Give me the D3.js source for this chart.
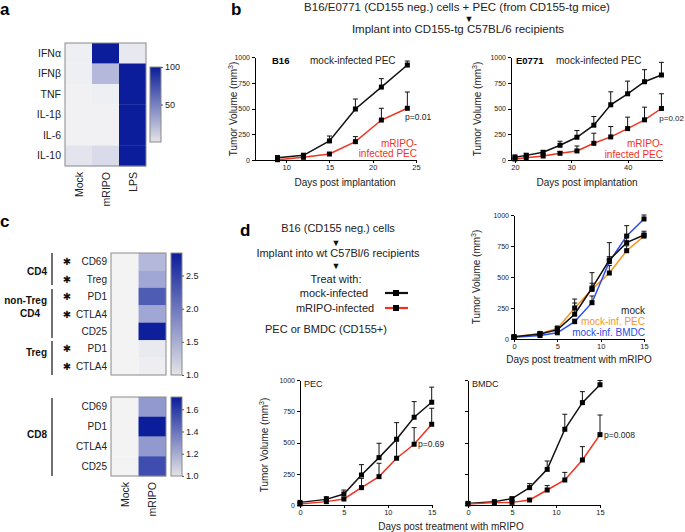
<!DOCTYPE html>
<html>
<head>
<meta charset="utf-8">
<script src="https://cdn.jsdelivr.net/npm/d3@7"></script>
<style>
  body { margin: 0; background: #fff; }
  svg { display: block; font-family: "Liberation Sans", Arial, sans-serif; }
  .axis path, .axis line { stroke: #000; shape-rendering: crispEdges; }
  .axis text { font-size: 7px; fill: #222; }
  .cbar text { font-size: 9px; fill: #222; }
  .cbar path { display: none; }
  .cbar line { stroke: #555; }
</style>
</head>
<body>
<div id="container"></div>
<script>
const WIDTH = 685;
const HEIGHT = 532;

// panel a: cytokines heatmap
const cytokines = ["IFNα", "IFNβ", "TNF", "IL-1β", "IL-6", "IL-10"];
const cytoConditions = ["Mock", "mRIPO", "LPS"];
const cytoValues = [
  [2, 100, 5],
  [2, 27, 100],
  [1, 2, 100],
  [1, 1, 100],
  [1, 1, 100],
  [7, 11, 100],
];

// panel c: T cell markers (fold change)
const tcConditions = ["Mock", "mRIPO"];
const cd4Rows = ["CD69", "Treg", "PD1", "CTLA4", "CD25", "PD1", "CTLA4"];
const cd4Star = [true, true, true, true, false, true, true];
const cd4Values = [
  [1, 1.5], [1, 1.65], [1, 2.3], [1, 1.65], [1, 2.82], [1, 1.08], [1, 1.04],
];
const cd8Rows = ["CD69", "PD1", "CTLA4", "CD25"];
const cd8Values = [[1, 1.3], [1, 1.71], [1, 1.3], [1, 1.55]];

// panel b: tumor growth after implantation
const b16Days = [9, 12, 15, 18, 21, 24];
const b16Mock = [23, 45, 185, 495, 708, 922];
const b16MockErr = [17, 20, 48, 97, 82, 39];
const b16Ripo = [3, 26, 58, 178, 388, 502];
const b16RipoErr = [7, 9, 12, 49, 114, 158];

const e0771Days = [20, 22, 25, 28, 31, 34, 37, 40, 43, 46];
const e0771Mock = [26, 45, 75, 143, 221, 338, 536, 643, 760, 825];
const e0771MockErr = [23, 20, 16, 39, 65, 84, 126, 123, 117, 123];
const e0771Ripo = [10, 23, 39, 65, 88, 162, 224, 305, 390, 500];
const e0771RipoErr = [5, 7, 11, 16, 48, 98, 101, 111, 123, 143];

// panel d: days post treatment
const treatDays = [0, 3, 5, 7, 9, 11, 13, 15];
const ctrlMock = [18, 40, 75, 200, 411, 637, 777, 839];
const ctrlMockErr = [5, 15, 25, 122, 124, 140, 60, 30];
const ctrlPec = [18, 45, 85, 250, 400, 532, 712, 830];
const ctrlPecErr = [5, 10, 20, 40, 50, 60, 40, 20];
const ctrlBmdc = [15, 28, 50, 140, 293, 624, 830, 968];
const ctrlBmdcErr = [3, 8, 15, 20, 54, 40, 84, 32];

const pecMock = [21, 45, 88, 240, 379, 526, 702, 822];
const pecMockErr = [5, 22, 32, 83, 115, 133, 125, 121];
const pecRipo = [8, 27, 48, 139, 227, 374, 486, 646];
const pecRipoErr = [3, 8, 10, 74, 107, 146, 133, 128];

const bmdcMock = [13, 27, 51, 139, 285, 606, 819, 962];
const bmdcMockErr = [3, 6, 10, 32, 67, 120, 88, 34];
const bmdcRipo = [8, 19, 21, 40, 120, 200, 360, 563];
const bmdcRipoErr = [2, 4, 5, 8, 35, 61, 107, 157];

const volTicks = [0, 250, 500, 750, 1000];

const RED = "#f0321e";
const ORANGE = "#f7951d";
const BLUE = "#2a4df0";
const NAVY = "#0b1d9a";
const PALE = "#f3f3f4";

const svg = d3.select("div#container")
  .append("svg")
  .attr("width", WIDTH)
  .attr("height", HEIGHT);

svg.append("rect").attr("width", WIDTH).attr("height", HEIGHT).attr("fill", "#fff");

const defs = svg.append("defs");

function text(x, y, str, opts = {}) {
  return svg.append("text")
    .attr("x", x)
    .attr("y", y)
    .attr("text-anchor", opts.anchor || "start")
    .style("font-size", (opts.size || 10) + "px")
    .style("font-weight", opts.bold ? "bold" : "normal")
    .style("fill", opts.fill || "#222")
    .text(str);
}

// panel letters
text(0, 15, "a", { size: 17, bold: true, fill: "#000" });
text(231, 15, "b", { size: 17, bold: true, fill: "#000" });
text(0, 227, "c", { size: 17, bold: true, fill: "#000" });
text(240, 236, "d", { size: 17, bold: true, fill: "#000" });

// ---------- heatmap helper ----------
function heatmap(cfg) {
  const x = d3.scaleBand().domain(cfg.cols).range([cfg.x0, cfg.x1]);
  const y = d3.scaleBand().domain(d3.range(cfg.rows.length)).range([cfg.y0, cfg.y1]);
  const color = d3.scaleLinear().domain(cfg.domain).range([PALE, NAVY]).clamp(true);

  const g = svg.append("g");
  cfg.values.forEach((row, i) => {
    row.forEach((v, j) => {
      g.append("rect")
        .attr("x", x(cfg.cols[j]))
        .attr("y", y(i))
        .attr("width", x.bandwidth())
        .attr("height", y.bandwidth() + 0.3)
        .attr("fill", color(v));
    });
  });
  g.append("rect")
    .attr("x", cfg.x0).attr("y", cfg.y0)
    .attr("width", cfg.x1 - cfg.x0).attr("height", cfg.y1 - cfg.y0)
    .attr("fill", "none").attr("stroke", "#8a8a8a");

  cfg.rows.forEach((r, i) => {
    text(cfg.x0 - 4, y(i) + y.bandwidth() / 2 + 3.5, r, { anchor: "end", size: cfg.fontSize || 10.5 });
  });

  if (cfg.showCols) {
    cfg.cols.forEach((c) => {
      svg.append("text")
        .attr("transform", `translate(${x(c) + x.bandwidth() / 2 + 4},${cfg.y1 + 6}) rotate(-90)`)
        .attr("text-anchor", "end")
        .style("font-size", "10.5px")
        .style("fill", "#222")
        .text(c);
    });
  }

  // colorbar
  const id = "grad" + cfg.id;
  const grad = defs.append("linearGradient").attr("id", id)
    .attr("x1", 0).attr("y1", 1).attr("x2", 0).attr("y2", 0);
  grad.append("stop").attr("offset", 0).attr("stop-color", "#e4e4e6");
  grad.append("stop").attr("offset", 1).attr("stop-color", NAVY);

  const cy = d3.scaleLinear().domain(cfg.domain).range([cfg.cb.y1, cfg.cb.y0]);
  svg.append("rect")
    .attr("x", cfg.cb.x0).attr("y", cfg.cb.y0)
    .attr("width", cfg.cb.x1 - cfg.cb.x0).attr("height", cfg.cb.y1 - cfg.cb.y0)
    .attr("fill", `url(#${id})`).attr("stroke", "#8a8a8a");
  svg.append("g")
    .attr("class", "cbar")
    .attr("transform", `translate(${cfg.cb.x1},0)`)
    .call(d3.axisRight(cy).tickValues(cfg.cbTicks).tickFormat(cfg.cbFormat).tickSize(2).tickPadding(2));
  return { x, y };
}

// ---------- panel a ----------
heatmap({
  id: "a",
  rows: cytokines, cols: cytoConditions, values: cytoValues,
  x0: 65, x1: 146, y0: 43, y1: 166,
  domain: [0, 100], showCols: true,
  cb: { x0: 150, x1: 161, y0: 67, y1: 142 },
  cbTicks: [50, 100], cbFormat: d3.format("d"),
});

// ---------- panel c ----------
const cUp = heatmap({
  id: "c1",
  rows: cd4Rows, cols: tcConditions, values: cd4Values,
  x0: 111, x1: 166, y0: 253, y1: 375,
  domain: [1, 2.84], showCols: false, fontSize: 10,
  cb: { x0: 171, x1: 182, y0: 253, y1: 375 },
  cbTicks: [1, 1.5, 2, 2.5], cbFormat: d3.format(".1f"),
});
heatmap({
  id: "c2",
  rows: cd8Rows, cols: tcConditions, values: cd8Values,
  x0: 111, x1: 166, y0: 397, y1: 476,
  domain: [1, 1.71], showCols: true, fontSize: 10,
  cb: { x0: 171, x1: 182, y0: 397, y1: 476 },
  cbTicks: [1, 1.2, 1.4, 1.6], cbFormat: d3.format(".1f"),
});

cd4Star.forEach((s, i) => {
  if (s) {
    text(67, cUp.y(i) + cUp.y.bandwidth() / 2 + 3.5, "✱", { anchor: "middle", size: 10, fill: "#111" })
      .style("font-family", "'DejaVu Sans', sans-serif");
  }
});

function bracket(yA, yB) {
  svg.append("line").attr("x1", 52).attr("x2", 52).attr("y1", yA).attr("y2", yB)
    .attr("stroke", "#111").attr("stroke-width", 1.2);
}
bracket(253, 285);
bracket(289, 338);
bracket(341, 375);
bracket(398, 476);
text(47, 275, "CD4", { anchor: "end", size: 10, bold: true, fill: "#111" });
text(47, 304, "non-Treg", { anchor: "end", size: 10, bold: true, fill: "#111" });
text(40, 317, "CD4", { anchor: "end", size: 10, bold: true, fill: "#111" });
text(47, 356, "Treg", { anchor: "end", size: 10, bold: true, fill: "#111" });
text(47, 438, "CD8", { anchor: "end", size: 10, bold: true, fill: "#111" });

// ---------- line chart helper ----------
function plot(cfg) {
  const x = d3.scaleLinear().domain(cfg.xDomain).range([cfg.x0, cfg.x1]);
  const y = d3.scaleLinear().domain([0, 1000]).range([cfg.y0, cfg.y1]);

  svg.append("g")
    .attr("class", "axis")
    .attr("transform", `translate(0,${cfg.y0})`)
    .call(d3.axisBottom(x).tickValues(cfg.xTicks).tickSize(3).tickSizeOuter(0).tickPadding(2))
    .selectAll("text").style("font-size", "7.5px");

  svg.append("g")
    .attr("class", "axis")
    .attr("transform", `translate(${cfg.x0},0)`)
    .call(d3.axisLeft(y).tickValues(volTicks).tickSize(3).tickSizeOuter(0).tickPadding(2)
      .tickFormat(cfg.noYLabels ? "" : d3.format("d")));

  const line = d3.line().x((d) => x(d[0])).y((d) => y(d[1]));

  cfg.series.forEach((s) => {
    const pts = cfg.days.map((d, i) => [d, s.values[i], s.err[i]]);
    const g = svg.append("g");
    g.selectAll("line.err")
      .data(pts)
      .enter()
      .append("path")
      .attr("d", (d) => {
        const top = y(d[1] + d[2]);
        return `M${x(d[0])},${y(d[1])}V${top}M${x(d[0]) - 2.5},${top}H${x(d[0]) + 2.5}`;
      })
      .attr("stroke", "#111")
      .attr("stroke-width", 1)
      .attr("fill", "none");
    g.append("path")
      .datum(pts)
      .attr("d", line)
      .attr("fill", "none")
      .attr("stroke", s.color)
      .attr("stroke-width", 1.5);
    g.selectAll("rect")
      .data(pts)
      .enter()
      .append("rect")
      .attr("x", (d) => x(d[0]) - 2.5)
      .attr("y", (d) => y(d[1]) - 2.5)
      .attr("width", 5)
      .attr("height", 5)
      .attr("fill", "#000");
  });

  if (cfg.yLabel) {
    const t = svg.append("text")
      .attr("transform", `translate(${cfg.yLabel[0]},${cfg.yLabel[1]}) rotate(-90)`)
      .attr("text-anchor", "middle")
      .style("font-size", "10px")
      .style("fill", "#222");
    t.append("tspan").text("Tumor Volume (mm");
    t.append("tspan").attr("dy", -4).style("font-size", "7px").text("3");
    t.append("tspan").attr("dy", 4).text(")");
  }
  if (cfg.xLabel) {
    text(cfg.xLabel[0], cfg.xLabel[1], cfg.xLabel[2], { anchor: "middle", size: 10 });
  }
  return { x, y };
}

// ---------- panel b ----------
text(457, 11, "B16/E0771 (CD155 neg.) cells + PEC (from CD155-tg mice)", { anchor: "middle", size: 11.5 });
text(469, 22, "▼", { anchor: "middle", size: 9, fill: "#111" });
text(458, 33, "Implant into CD155-tg C57BL/6 recipients", { anchor: "middle", size: 11.5 });

plot({
  x0: 255, x1: 416, y0: 160, y1: 57,
  xDomain: [6.4, 25], xTicks: [10, 15, 20, 25],
  days: b16Days,
  series: [
    { values: b16Mock, err: b16MockErr, color: "#111" },
    { values: b16Ripo, err: b16RipoErr, color: RED },
  ],
  yLabel: [237, 109],
  xLabel: [345, 186, "Days post implantation"],
});
text(272, 64, "B16", { size: 9.5, bold: true, fill: "#000" });
text(310, 64, "mock-infected PEC", { size: 10 });
text(405, 120, "p=0.01", { size: 8.5 });
text(417, 147, "mRIPO-", { anchor: "end", size: 10, fill: RED });
text(417, 157, "infected PEC", { anchor: "end", size: 10, fill: RED });

plot({
  x0: 511, x1: 662, y0: 160, y1: 57,
  xDomain: [19.3, 46.1], xTicks: [20, 30, 40],
  days: e0771Days,
  series: [
    { values: e0771Mock, err: e0771MockErr, color: "#111" },
    { values: e0771Ripo, err: e0771RipoErr, color: RED },
  ],
  yLabel: [481, 109],
  xLabel: [587, 186, "Days post implantation"],
});
text(516, 64, "E0771", { size: 9.5, bold: true, fill: "#000" });
text(556, 64, "mock-infected PEC", { size: 10 });
text(684, 121, "p=0.02", { anchor: "end", size: 8 });
text(663, 147, "mRIPO-", { anchor: "end", size: 10, fill: RED });
text(663, 158, "infected PEC", { anchor: "end", size: 10, fill: RED });

// ---------- panel d ----------
text(338, 232, "B16 (CD155 neg.) cells", { anchor: "middle", size: 11 });
text(336, 246, "▼", { anchor: "middle", size: 9, fill: "#111" });
text(338, 257, "Implant into wt C57Bl/6 recipients", { anchor: "middle", size: 11 });
text(336, 269, "▼", { anchor: "middle", size: 9, fill: "#111" });
text(336, 283, "Treat with:", { anchor: "middle", size: 11 });
text(334, 297, "mock-infected", { anchor: "middle", size: 11 });
text(335, 312, "mRIPO-infected", { anchor: "middle", size: 11 });
text(326, 333, "PEC or BMDC (CD155+)", { anchor: "middle", size: 11 });

[["#111", 293], [RED, 308]].forEach(([c, yy]) => {
  svg.append("line").attr("x1", 385).attr("x2", 408).attr("y1", yy).attr("y2", yy)
    .attr("stroke", c).attr("stroke-width", 2.2);
  svg.append("rect").attr("x", 393).attr("y", yy - 3).attr("width", 6).attr("height", 6).attr("fill", "#000");
});

plot({
  x0: 514, x1: 644, y0: 339, y1: 215,
  xDomain: [0, 15], xTicks: [0, 5, 10, 15],
  days: treatDays,
  series: [
    { values: ctrlPec, err: ctrlPecErr, color: ORANGE },
    { values: ctrlBmdc, err: ctrlBmdcErr, color: BLUE },
    { values: ctrlMock, err: ctrlMockErr, color: "#111" },
  ],
  yLabel: [480, 277],
  xLabel: [579, 363, "Days post treatment with mRIPO"],
});
text(645, 314, "mock", { anchor: "end", size: 10 });
text(645, 325, "mock-inf. PEC", { anchor: "end", size: 10, fill: ORANGE });
text(645, 336, "mock-inf. BMDC", { anchor: "end", size: 10, fill: BLUE });

plot({
  x0: 300, x1: 431.7, y0: 505, y1: 380,
  xDomain: [0, 15], xTicks: [0, 5, 10, 15],
  days: treatDays,
  series: [
    { values: pecMock, err: pecMockErr, color: "#111" },
    { values: pecRipo, err: pecRipoErr, color: RED },
  ],
  yLabel: [268, 445],
});
text(304, 387, "PEC", { size: 9 });
text(418, 447, "p=0.69", { size: 8.5 });

plot({
  x0: 468, x1: 600, y0: 505, y1: 380,
  xDomain: [0, 15], xTicks: [0, 5, 10, 15],
  days: treatDays,
  series: [
    { values: bmdcMock, err: bmdcMockErr, color: "#111" },
    { values: bmdcRipo, err: bmdcRipoErr, color: RED },
  ],
  noYLabels: true,
});
text(472, 387, "BMDC", { size: 9 });
text(604, 438, "p=0.008", { size: 8.5 });
text(451, 530, "Days post treatment with mRIPO", { anchor: "middle", size: 10 });
</script>
</body>
</html>
